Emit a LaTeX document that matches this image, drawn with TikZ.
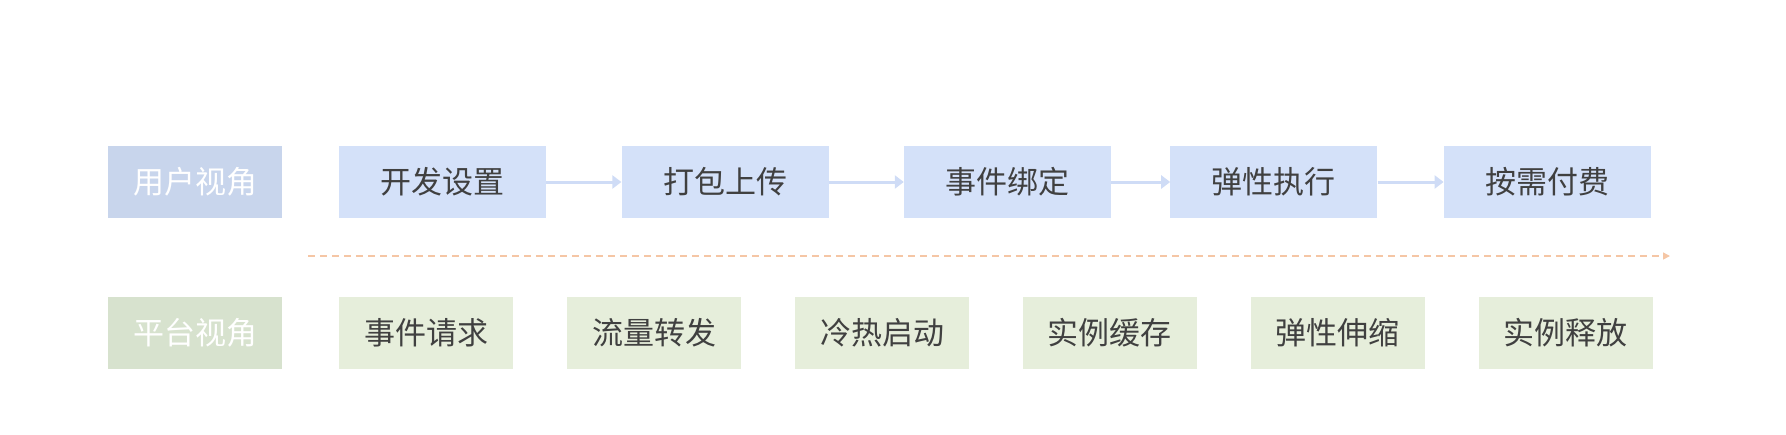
\documentclass[tikz,border=0pt]{standalone}
\usepackage{fontspec}
\newfontfamily\cjk{Noto Sans CJK SC}
\usepackage{tikz}
\usetikzlibrary{positioning}
\usetikzlibrary{arrows.meta}

\definecolor{userhead}{HTML}{C8D5EC}
\definecolor{userfill}{HTML}{D4E1F9}
\definecolor{plathead}{HTML}{D7E2CE}
\definecolor{platfill}{HTML}{E6EEDB}
\definecolor{labeltext}{HTML}{404040}
\definecolor{flowline}{HTML}{CFDCF6}
\definecolor{timeline}{HTML}{F5C6A5}

\begin{document}
\begin{tikzpicture}[
    x=1pt, y=-1pt,
    box/.style={minimum height=72pt, inner sep=0pt, font=\cjk\fontsize{31pt}{36pt}\selectfont},
    head-user/.style={box, fill=userhead, text=white, minimum width=174pt, anchor=west},
    step-user/.style={box, fill=userfill, text=labeltext, minimum width=207pt},
    head-plat/.style={box, fill=plathead, text=white, minimum width=174pt, anchor=west},
    step-plat/.style={box, fill=platfill, text=labeltext, minimum width=174pt},
    flow/.style={flowline, line width=3pt, -{Triangle[length=9pt, width=13pt]}}
  ]
  \useasboundingbox (0,0) rectangle (1786,434);

  % user side
  \node[head-user] (uhead) at (108,182) {用户视角};
  \node[step-user, anchor=west] (dev) at (339,182) {开发设置};
  \node[step-user, right=75pt of dev] (pack) {打包上传};
  \node[step-user, right=75pt of pack] (bind) {事件绑定};
  \node[step-user, right=59pt of bind] (exec) {弹性执行};
  \node[step-user, right=66pt of exec] (pay) {按需付费};

  \draw[flow] (dev) -- (pack);
  \draw[flow] (pack) -- (bind);
  \draw[flow] (bind) -- (exec);
  \draw[flow] (exec) -- (pay);

  % time line
  \coordinate (tl-start) at (308,256);
  \coordinate (tl-end) at (1670,256);
  \draw[timeline, line width=1.5pt, dash pattern=on 7pt off 5pt, -{Triangle[length=7pt, width=7pt]}] (tl-start) -- (tl-end);

  % platform side
  \node[head-plat] (phead) at (108,333) {平台视角};
  \node[step-plat, anchor=west] (req) at (339,333) {事件请求};
  \node[step-plat, right=53.5pt of req] (route) {流量转发};
  \node[step-plat, right=53.5pt of route] (start) {冷热启动};
  \node[step-plat, right=53.5pt of start] (cache) {实例缓存};
  \node[step-plat, right=53.5pt of cache] (scale) {弹性伸缩};
  \node[step-plat, right=53.5pt of scale] (free) {实例释放};

\end{tikzpicture}
\end{document}
